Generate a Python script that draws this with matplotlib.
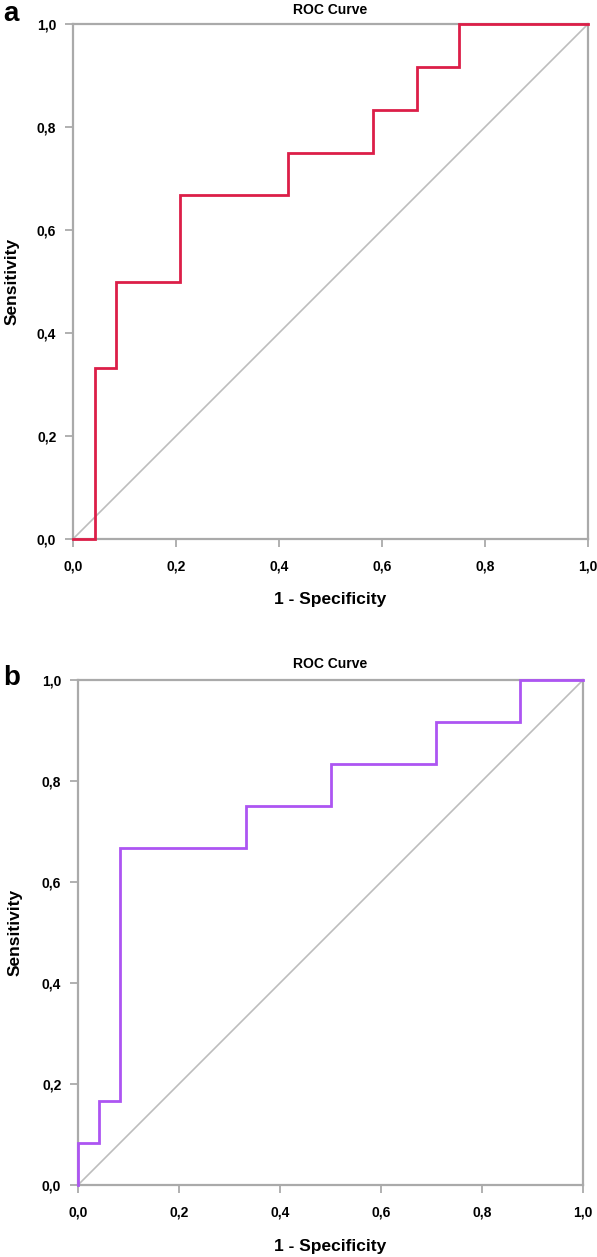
import matplotlib
matplotlib.use("Agg")
import matplotlib.pyplot as plt
from matplotlib.ticker import FixedLocator

plt.rcParams['font.family'] = ['Liberation Sans', 'DejaVu Sans']

# Panel a data (step ROC)
a_fpr = [0.0, 0.042, 0.042, 0.083, 0.083, 0.208, 0.208, 0.417, 0.417, 0.583, 0.583, 0.667, 0.667, 0.75, 0.75, 1.0]
a_tpr = [0.0, 0.0, 0.333, 0.333, 0.5, 0.5, 0.667, 0.667, 0.75, 0.75, 0.833, 0.833, 0.917, 0.917, 1.0, 1.0]

# Panel b data
b_fpr = [0.0, 0.0, 0.042, 0.042, 0.083, 0.083, 0.333, 0.333, 0.5, 0.5, 0.708, 0.708, 0.875, 0.875, 1.0]
b_tpr = [0.0, 0.083, 0.083, 0.167, 0.167, 0.667, 0.667, 0.75, 0.75, 0.833, 0.833, 0.917, 0.917, 1.0, 1.0]

ticks = [0.0, 0.2, 0.4, 0.6, 0.8, 1.0]
tick_labels = ['0,0', '0,2', '0,4', '0,6', '0,8', '1,0']

W, H = 597, 1257
fig = plt.figure(figsize=(W / 100, H / 100), dpi=100)

gray = '#AAAAAA'

def make_panel(rect, fpr, tpr, color, letter, letter_xy, title_y, xlabel_y, ylabel_x):
    l, t, r, b = rect
    ax = fig.add_axes([l / W, 1 - b / H, (r - l) / W, (b - t) / H])
    ax.set_xlim(0, 1)
    ax.set_ylim(0, 1)
    ax.plot([0, 1], [0, 1], color='#BDBDBD', lw=1.2, zorder=1)
    ax.plot(fpr, tpr, color=color, lw=2.0, zorder=3, solid_joinstyle='miter', clip_on=False)
    for s in ax.spines.values():
        s.set_color(gray)
        s.set_linewidth(1.6)
    ax.xaxis.set_major_locator(FixedLocator(ticks))
    ax.yaxis.set_major_locator(FixedLocator(ticks))
    ax.set_xticklabels(tick_labels)
    ax.set_yticklabels(tick_labels)
    ax.tick_params(axis='both', length=6, width=1.3, color=gray, labelsize=10)
    ax.tick_params(axis='x', pad=9)
    ax.tick_params(axis='y', pad=6)
    for lab in ax.get_xticklabels() + ax.get_yticklabels():
        lab.set_fontweight('bold')
    cx = (l + r) / 2 / W
    fig.text(cx, 1 - title_y / H, 'ROC Curve', ha='center', va='center', fontsize=10, fontweight='bold')
    fig.text(cx, 1 - xlabel_y / H, '1 - Specificity', ha='center', va='center', fontsize=12.5, fontweight='bold')
    fig.text(ylabel_x / W, 1 - (t + b) / 2 / H, 'Sensitivity', ha='center', va='center', rotation=90,
             fontsize=12.5, fontweight='bold')
    fig.text(letter_xy[0] / W, 1 - letter_xy[1] / H, letter, ha='left', va='center', fontsize=20, fontweight='bold')
    return ax

make_panel((73, 24, 588, 539), a_fpr, a_tpr, '#DC1E48', 'a', (3, 14), 10, 600, 12)
make_panel((78, 680, 583, 1185), b_fpr, b_tpr, '#AD55F2', 'b', (3, 678), 664, 1246, 15)

fig.savefig('out.png', dpi=100)
